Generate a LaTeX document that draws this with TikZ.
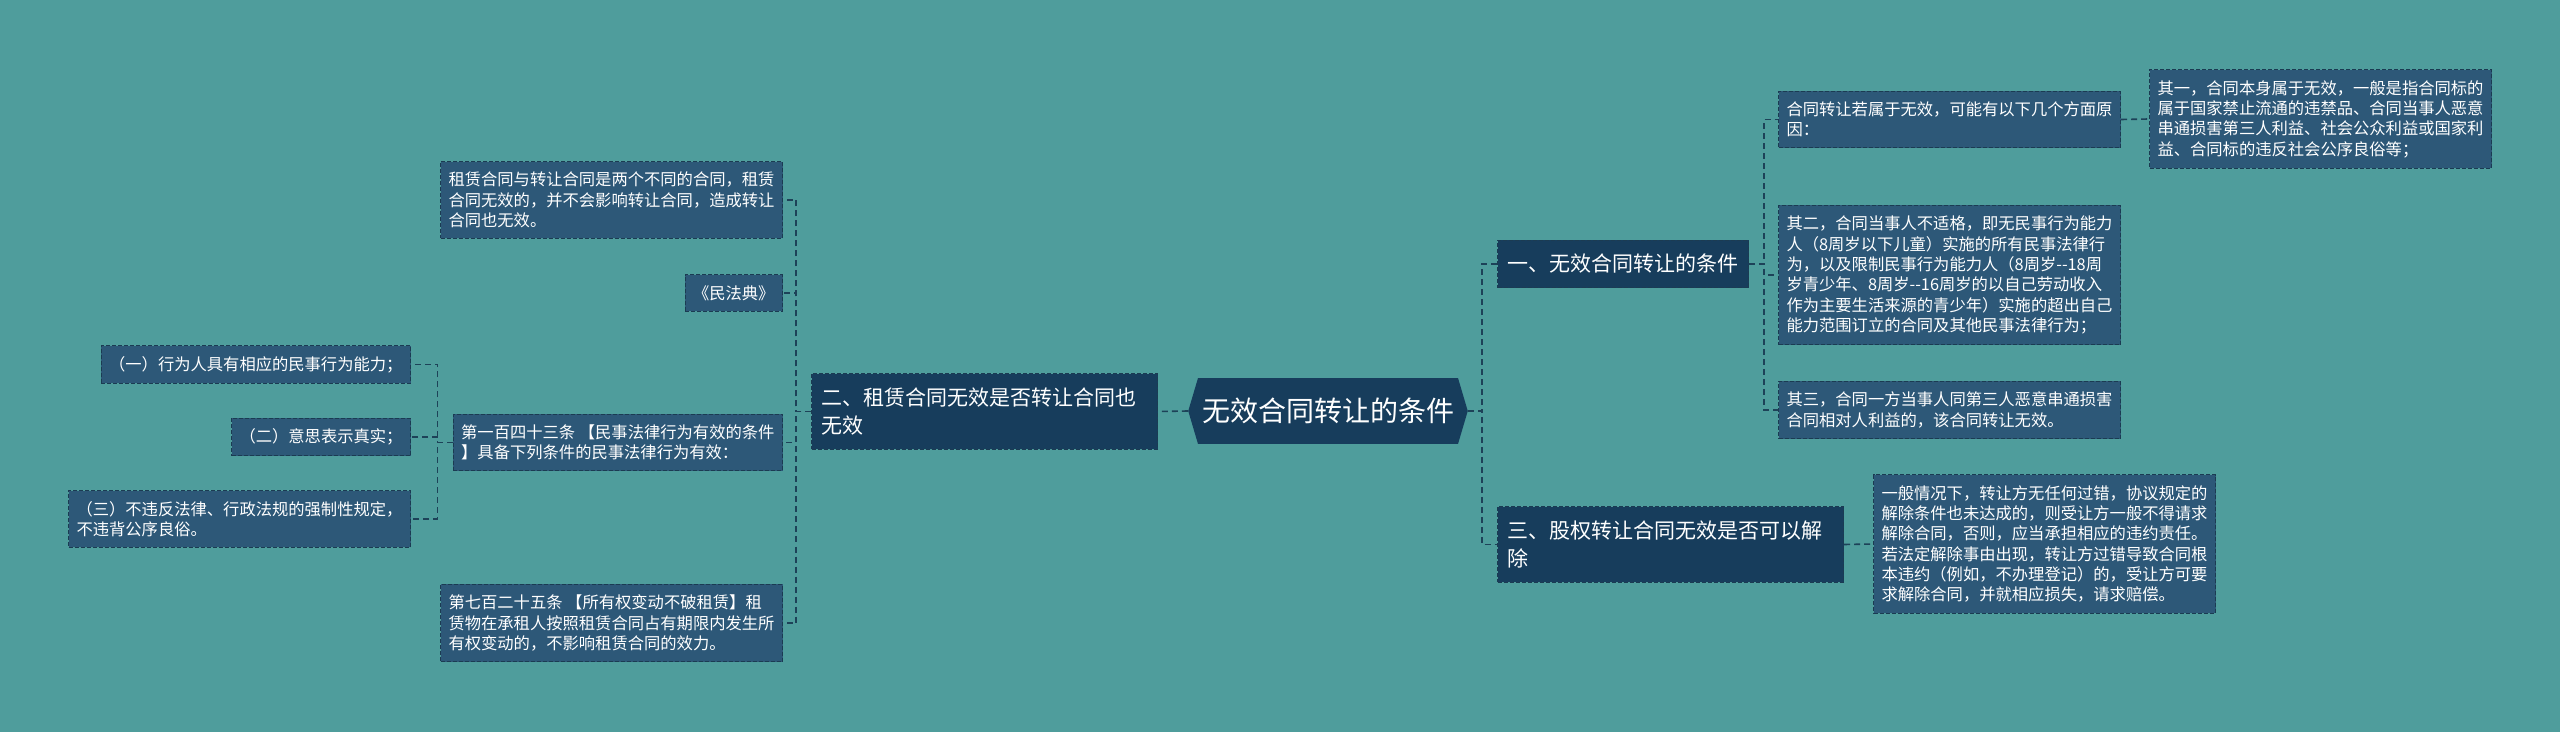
\documentclass[tikz,border=0pt]{standalone}
\usepackage{fontspec}
\setmainfont{Noto Sans CJK SC}[Ligatures=TeXOff]
\usetikzlibrary{shapes.symbols}
\definecolor{fundo}{HTML}{4F9D9C}
\definecolor{ramofill}{HTML}{173D5C}
\definecolor{folhafill}{HTML}{2D5878}
\definecolor{contorno}{HTML}{1B3B52}
\definecolor{linha}{HTML}{1D4258}

\begin{document}
\begin{tikzpicture}[x=0.5pt, y=-0.5pt,
    every node/.style={text=white, inner sep=0pt},
    folha/.style={draw=contorno, fill=folhafill, line width=0.5pt, dash pattern=on 2pt off 1pt,
      align=left, inner xsep=4pt, inner ysep=5.3pt, font=\fontsize{8.15pt}{10.15pt}\selectfont},
    ramo/.style={draw=contorno, fill=ramofill, line width=0.5pt, dash pattern=on 2pt off 1pt,
      align=left, inner xsep=5pt, inner ysep=7pt, font=\fontsize{10.5pt}{14pt}\selectfont},
    ligacao/.style={draw=linha, line width=0.8pt, dash pattern=on 3pt off 2pt}]
    % Fundo
    \fill[fundo] (0,0) rectangle (2560,732);
    \useasboundingbox (0,0) rectangle (2560,732);
    % Nó central
    \node[signal, signal to=west and east, signal pointer angle=147, fill=ramofill,
      inner xsep=2pt, inner ysep=10pt, font=\fontsize{14pt}{16pt}\selectfont] (raiz) at (1328,411) {无效合同转让的条件};
    % Ramos principais
    \node[ramo, anchor=west] (ramo1) at (1497,264) {一、无效合同转让的条件};
    \node[ramo, anchor=east, text width=163pt] (ramo2) at (1158,411.5) {二、租赁合同无效是否转让合同也\\无效};
    \node[ramo, anchor=west, text width=163pt] (ramo3) at (1497,544.5) {三、股权转让合同无效是否可以解\\除};
    \draw[ligacao] (raiz.east) -- ++(14,0) |- (ramo1.west);
    \draw[ligacao] (raiz.east) -- ++(14,0) |- (ramo3.west);
    \draw[ligacao] (raiz.west) -- (ramo2.east);
    % Lado direito
    \node[folha, anchor=west] (d1) at (1778,119.5) {合同转让若属于无效，可能有以下几个方面原\\因：};
    \node[folha, anchor=west] (d2) at (1778,275) {其二，合同当事人不适格，即无民事行为能力\\人（8周岁以下儿童）实施的所有民事法律行\\为，以及限制民事行为能力人（8周岁--18周\\岁青少年、8周岁--16周岁的以自己劳动收入\\作为主要生活来源的青少年）实施的超出自己\\能力范围订立的合同及其他民事法律行为；};
    \node[folha, anchor=west] (d3) at (1778,410) {其三，合同一方当事人同第三人恶意串通损害\\合同相对人利益的，该合同转让无效。};
    \node[folha, anchor=west] (d1a) at (2149,119) {其一，合同本身属于无效，一般是指合同标的\\属于国家禁止流通的违禁品、合同当事人恶意\\串通损害第三人利益、社会公众利益或国家利\\益、合同标的违反社会公序良俗等；};
    \node[folha, anchor=west] (ramo3a) at (1873,544) {一般情况下，转让方无任何过错，协议规定的\\解除条件也未达成的，则受让方一般不得请求\\解除合同，否则，应当承担相应的违约责任。\\若法定解除事由出现，转让方过错导致合同根\\本违约（例如，不办理登记）的，受让方可要\\求解除合同，并就相应损失，请求赔偿。};
    \foreach \nome in {d1, d2, d3}
      \draw[ligacao] (ramo1.east) -- ++(15,0) |- (\nome.west);
    \draw[ligacao] (d1.east) -- (d1a.west);
    \draw[ligacao] (ramo3.east) -- (ramo3a.west);
    % Lado esquerdo
    \node[folha, anchor=east] (e1) at (783,200) {租赁合同与转让合同是两个不同的合同，租赁\\合同无效的，并不会影响转让合同，造成转让\\合同也无效。};
    \node[folha, anchor=east] (e2) at (783,293) {《民法典》};
    \node[folha, anchor=east] (e3) at (783,442.5) {第一百四十三条 【民事法律行为有效的条件\\】具备下列条件的民事法律行为有效：};
    \node[folha, anchor=east] (e4) at (783,623) {第七百二十五条 【所有权变动不破租赁】租\\赁物在承租人按照租赁合同占有期限内发生所\\有权变动的，不影响租赁合同的效力。};
    \foreach \nome in {e1, e2, e3, e4}
      \draw[ligacao] (ramo2.west) -- ++(-15,0) |- (\nome.east);
    % Condições do art. 143
    \node[folha, anchor=east] (e3a) at (411,364.5) {（一）行为人具有相应的民事行为能力；};
    \node[folha, anchor=east] (e3b) at (411,437) {（二）意思表示真实；};
    \node[folha, anchor=east] (e3c) at (411,519) {（三）不违反法律、行政法规的强制性规定，\\不违背公序良俗。};
    \foreach \nome in {e3a, e3b, e3c}
      \draw[ligacao] (e3.west) -- ++(-15,0) |- (\nome.east);
  \end{tikzpicture}
\end{document}
